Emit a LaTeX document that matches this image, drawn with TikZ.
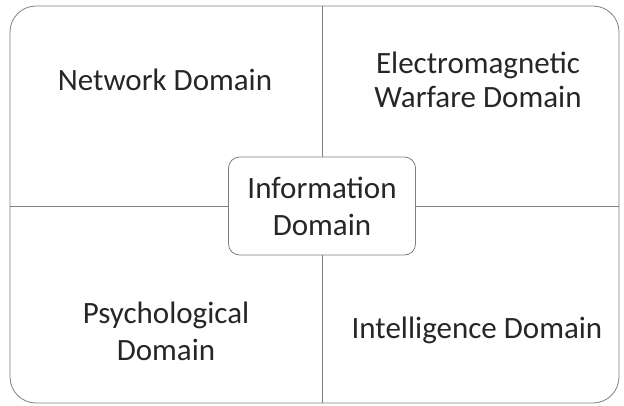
\documentclass[tikz,border=0pt]{standalone}
\usepackage{fontspec}
\setmainfont{Carlito}
\usepackage{tikz}
\usetikzlibrary{positioning}

\begin{document}
\begin{tikzpicture}[x=1pt,y=-1pt]
\tikzstyle{every node}=[font=\fontsize{31}{34}\selectfont,align=center,text=black!85];
\tikzstyle{edge}=[draw=black!50,line width=0.8pt];
\useasboundingbox (0,0) rectangle (624,405);
\node[edge,rounded corners=26pt,minimum width=609pt,minimum height=397pt] (frame) at (314.5,204.5) {};
\node[edge,fill=white,rounded corners=11pt,minimum width=187pt,minimum height=98pt,font=\fontsize{31}{37}\selectfont] (info) at (322,206) {Information\\Domain};
\draw[edge] (frame.north -| info) -- (info.north);
\draw[edge] (frame.south -| info) -- (info.south);
\draw[edge] (frame.west |- info) -- (info.west);
\draw[edge] (frame.east |- info) -- (info.east);
\node (network) at (165,80) {Network Domain};
\node (ew) at (478,80) {Electromagnetic\\Warfare Domain};
\node[font=\fontsize{31}{37}\selectfont] (psy) at (166,331) {Psychological\\Domain};
\node (intel) at (477,330) {Intelligence Domain};
\end{tikzpicture}
\end{document}
